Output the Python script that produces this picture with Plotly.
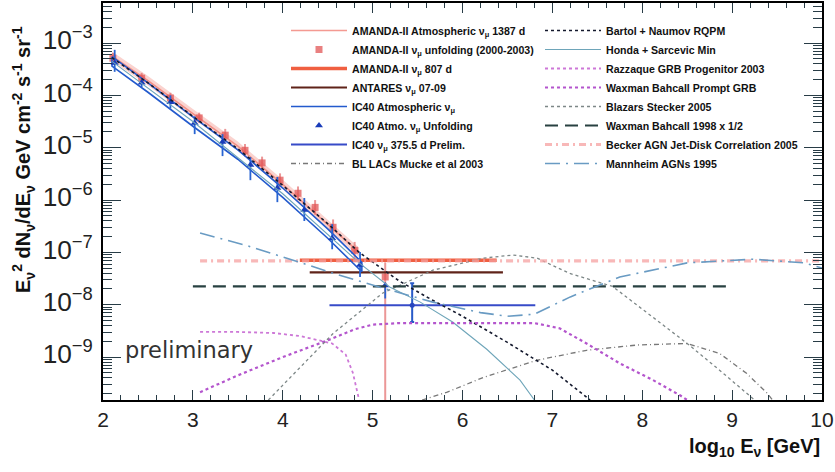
import numpy as np
import plotly.graph_objects as go

# ---------------- data (log10 E [GeV], log10 E^2 dN/dE) ----------------
# AMANDA-II atmospheric band 1387 d (centre line, half width in decades)
amanda_band_x = [2.1, 2.5, 3.0, 3.5, 4.0, 4.5, 4.85]
amanda_band_c = [-3.25, -3.72, -4.35, -4.97, -5.70, -6.47, -7.00]
amanda_band_hw = 0.09

# AMANDA-II unfolding (2000-2003)
amanda_unf_x = [2.11, 2.43, 2.75, 3.07, 3.36, 3.58, 3.77, 3.97, 4.17, 4.36, 4.56, 4.80, 5.14]
amanda_unf_y = [-3.29, -3.67, -4.05, -4.43, -4.76, -5.05, -5.29, -5.62, -5.87, -6.14, -6.52, -6.96, -7.47]
amanda_unf_up = [0.10, 0.10, 0.10, 0.10, 0.12, 0.12, 0.12, 0.13, 0.13, 0.14, 0.15, 0.16, 0.28]
amanda_unf_dn = [0.10, 0.10, 0.10, 0.10, 0.12, 0.12, 0.12, 0.13, 0.13, 0.14, 0.15, 0.16, 4.0]

# AMANDA-II 807 d limit
amanda807_x = [4.19, 6.38]
amanda807_y = -7.15

# ANTARES 07-09
antares_x = [4.30, 6.45]
antares_y = -7.38

# IC40 atmospheric band (centre, half width)
ic40_band_x = [2.1, 2.5, 3.0, 3.5, 4.0, 4.5, 4.88]
ic40_band_c = [-3.35, -3.85, -4.50, -5.13, -5.86, -6.64, -7.28]
ic40_band_hw = 0.09

# IC40 atmospheric unfolding
ic40_unf_x = [2.13, 2.43, 2.75, 3.02, 3.33, 3.64, 3.94, 4.24, 4.55, 4.86, 5.14]
ic40_unf_y = [-3.38, -3.76, -4.13, -4.53, -4.89, -5.33, -5.77, -6.19, -6.73, -7.24, -7.63]
ic40_unf_up = [0.25, 0.06, 0.13, 0.13, 0.15, 0.15, 0.21, 0.23, 0.27, 0.25, 0.04]
ic40_unf_dn = [0.17, 0.08, 0.12, 0.21, 0.27, 0.29, 0.27, 0.21, 0.21, 0.23, 0.25]

# IC40 375.5 d preliminary
ic40p_xrange = [4.52, 6.81]
ic40p_x = 5.44
ic40p_y = -8.01
ic40p_up = 0.42
ic40p_dn = 0.32

# BL LACs Mucke et al 2003
mucke_x = [5.55, 5.83, 6.23, 6.83, 7.38, 7.94, 8.5, 8.86, 9.16, 9.39, 9.45]
mucke_y = [-9.82, -9.67, -9.39, -9.06, -8.87, -8.77, -8.74, -8.93, -9.31, -9.69, -9.82]

# Bartol + Naumov RQPM
bartol_x = [2.1, 2.5, 3.0, 3.5, 4.0, 4.5, 4.85, 5.3, 5.6, 6.0, 6.5, 7.0, 7.42]
bartol_y = [-3.28, -3.76, -4.40, -5.02, -5.72, -6.45, -7.0, -7.55, -7.85, -8.22, -8.72, -9.25, -9.82]

# Honda + Sarcevic Min
honda_x = [2.1, 3.0, 4.0, 4.5, 4.85, 5.19, 5.53, 5.89, 6.27, 6.64, 6.8]
honda_y = [-3.35, -4.50, -5.88, -6.65, -7.20, -7.66, -7.95, -8.33, -8.85, -9.44, -9.82]

# Razzaque GRB progenitor 2003
razz_x = [3.08, 3.5, 3.9, 4.2, 4.55, 4.7, 4.78, 4.83, 4.85]
razz_y = [-8.52, -8.52, -8.54, -8.60, -8.74, -8.95, -9.30, -9.69, -9.82]

# Waxman Bahcall prompt GRB
wbgrb_x = [3.08, 3.5, 4.0, 4.5, 4.8, 5.0, 5.3, 6.8, 7.08, 7.38, 7.75, 8.12, 8.42, 8.5]
wbgrb_y = [-9.67, -9.35, -9.0, -8.68, -8.47, -8.38, -8.35, -8.35, -8.45, -8.74, -9.12, -9.44, -9.73, -9.82]

# Blazars Stecker 2005
stecker_x = [3.84, 4.2, 4.56, 5.11, 5.67, 6.23, 6.56, 6.83, 7.19, 7.67, 8.12, 8.5, 8.86, 9.16, 9.25]
stecker_y = [-9.82, -9.19, -8.55, -7.78, -7.34, -7.11, -7.05, -7.11, -7.40, -7.65, -8.24, -8.74, -9.25, -9.69, -9.82]

# Waxman Bahcall 1998 x 1/2
wb98_x = [3.0, 8.94]
wb98_y = -7.65

# Becker AGN Jet-Disk correlation 2005
becker_x = [3.08, 10.0]
becker_y = -7.16

# Mannheim AGNs 1995
mann_x = [3.08, 3.6, 4.19, 4.56, 5.11, 5.67, 6.2, 6.5, 6.8, 7.2, 7.75, 8.5, 9.23, 9.8, 10.0]
mann_y = [-6.63, -6.87, -7.19, -7.40, -7.68, -7.95, -8.15, -8.22, -8.18, -7.85, -7.47, -7.20, -7.13, -7.20, -7.30]

x_ticks = [2, 3, 4, 5, 6, 7, 8, 9, 10]

# ---------------- helpers ----------------
def p(a):
    return 10 ** np.asarray(a, dtype=float)

def errs(y, up, dn):
    yv = p(y)
    return yv * (10 ** np.asarray(up) - 1), yv * (1 - 10 ** (-np.asarray(dn)))

FONT = "Liberation Sans, Arial, Helvetica, sans-serif"
MU = "ν<sub>μ</sub>"

fig = go.Figure()

# AMANDA band (fill) + centre line for legend
bx = np.asarray(amanda_band_x)
bc = np.asarray(amanda_band_c)
fig.add_trace(go.Scatter(
    x=np.concatenate([bx, bx[::-1]]),
    y=p(np.concatenate([bc + amanda_band_hw, (bc - amanda_band_hw)[::-1]])),
    fill="toself", fillcolor="rgba(240,120,110,0.33)", line=dict(width=0),
    mode="lines", showlegend=False, hoverinfo="skip"))
fig.add_trace(go.Scatter(
    x=amanda_band_x, y=p(amanda_band_c), mode="lines",
    line=dict(color="rgba(240,120,110,0.75)", width=1.5),
    name=f"AMANDA-II Atmospheric {MU} 1387 d", legend="legend"))

# AMANDA unfolding
ap, am = errs(amanda_unf_y, amanda_unf_up, amanda_unf_dn)
fig.add_trace(go.Scatter(
    x=amanda_unf_x, y=p(amanda_unf_y), mode="markers",
    marker=dict(symbol="square", size=7, color="rgba(225,85,85,0.75)"),
    error_y=dict(type="data", array=ap, arrayminus=am, color="rgba(225,95,95,0.65)",
                 thickness=2, width=0),
    name=f"AMANDA-II {MU} unfolding (2000-2003)", legend="legend"))

# AMANDA 807 d
fig.add_trace(go.Scatter(
    x=amanda807_x, y=p([amanda807_y] * 2), mode="lines",
    line=dict(color="rgb(240,95,65)", width=3.5),
    name=f"AMANDA-II {MU} 807 d", legend="legend"))

# ANTARES
fig.add_trace(go.Scatter(
    x=antares_x, y=p([antares_y] * 2), mode="lines",
    line=dict(color="rgb(95,35,25)", width=2.2),
    name=f"ANTARES {MU} 07-09", legend="legend"))

# IC40 band outline
ix = np.asarray(ic40_band_x)
ic = np.asarray(ic40_band_c)
fig.add_trace(go.Scatter(
    x=np.concatenate([ix, ix[::-1], ix[:1]]),
    y=p(np.concatenate([ic + ic40_band_hw, (ic - ic40_band_hw)[::-1], ic[:1] + ic40_band_hw])),
    mode="lines", line=dict(color="rgb(35,90,205)", width=1.6),
    name=f"IC40 Atmospheric {MU}", legend="legend"))

# IC40 unfolding
ip, im = errs(ic40_unf_y, ic40_unf_up, ic40_unf_dn)
fig.add_trace(go.Scatter(
    x=ic40_unf_x, y=p(ic40_unf_y), mode="markers",
    marker=dict(symbol="triangle-up", size=7, color="rgb(25,60,185)"),
    error_y=dict(type="data", array=ip, arrayminus=im, color="rgb(40,100,210)",
                 thickness=1.8, width=0),
    name=f"IC40 Atmo. {MU} Unfolding", legend="legend"))

# IC40 375.5 d preliminary
fig.add_trace(go.Scatter(
    x=ic40p_xrange, y=p([ic40p_y] * 2), mode="lines",
    line=dict(color="rgb(55,75,200)", width=2.2),
    name=f"IC40 {MU} 375.5 d Prelim.", legend="legend"))
pp, pm = errs([ic40p_y], [ic40p_up], [ic40p_dn])
fig.add_trace(go.Scatter(
    x=[ic40p_x], y=p([ic40p_y]), mode="markers",
    marker=dict(symbol="circle", size=5, color="rgb(40,70,190)"),
    error_y=dict(type="data", array=pp, arrayminus=pm, color="rgb(40,90,200)",
                 thickness=2, width=2),
    showlegend=False))

# Mucke
fig.add_trace(go.Scatter(
    x=mucke_x, y=p(mucke_y), mode="lines",
    line=dict(color="rgb(120,120,120)", width=1.3, dash="5px,3px,1px,3px"),
    name="BL LACs Mucke et al 2003", legend="legend"))

# ---- right legend models ----
fig.add_trace(go.Scatter(
    x=bartol_x, y=p(bartol_y), mode="lines",
    line=dict(color="rgb(20,25,45)", width=1.6, dash="dot"),
    name="Bartol + Naumov RQPM", legend="legend2"))
fig.add_trace(go.Scatter(
    x=honda_x, y=p(honda_y), mode="lines",
    line=dict(color="rgb(110,165,185)", width=1.1),
    name="Honda + Sarcevic Min", legend="legend2"))
fig.add_trace(go.Scatter(
    x=razz_x, y=p(razz_y), mode="lines",
    line=dict(color="rgb(205,120,215)", width=1.8, dash="dot"),
    name="Razzaque GRB Progenitor 2003", legend="legend2"))
fig.add_trace(go.Scatter(
    x=wbgrb_x, y=p(wbgrb_y), mode="lines",
    line=dict(color="rgb(180,85,205)", width=2.2, dash="3px,3px"),
    name="Waxman Bahcall Prompt GRB", legend="legend2"))
fig.add_trace(go.Scatter(
    x=stecker_x, y=p(stecker_y), mode="lines",
    line=dict(color="rgb(125,135,135)", width=1.3, dash="dot"),
    name="Blazars Stecker 2005", legend="legend2"))
fig.add_trace(go.Scatter(
    x=wb98_x, y=p([wb98_y] * 2), mode="lines",
    line=dict(color="rgb(40,65,65)", width=2.2, dash="13px,7px"),
    name="Waxman Bahcall 1998 x 1/2", legend="legend2"))
fig.add_trace(go.Scatter(
    x=becker_x, y=p([becker_y] * 2), mode="lines",
    line=dict(color="rgba(245,160,160,0.75)", width=3.2, dash="7px,4px,2px,4px"),
    name="Becker AGN Jet-Disk Correlation 2005", legend="legend2"))
fig.add_trace(go.Scatter(
    x=mann_x, y=p(mann_y), mode="lines",
    line=dict(color="rgb(105,155,195)", width=1.6, dash="15px,6px,2px,6px"),
    name="Mannheim AGNs 1995", legend="legend2"))

axis_common = dict(
    showline=True, linecolor="black", linewidth=2, mirror="ticks",
    ticks="inside", tickcolor="rgb(40,60,70)", showgrid=False, zeroline=False,
    automargin=False,
    tickfont=dict(family=FONT, size=21, color="#222"),
)

fig.update_xaxes(
    range=[2, 10], tickvals=x_ticks, ticktext=[str(v) for v in x_ticks],
    ticklen=10, tickwidth=1.2,
    minor=dict(ticks="inside", dtick=0.2, ticklen=5, tickcolor="rgb(40,60,70)", showgrid=False),
    ticklabelstandoff=0,
    **axis_common)
fig.update_yaxes(
    type="log", range=[-9.82, -2.235], dtick=1, exponentformat="power",
    ticklen=18, tickwidth=1.2,
    minor=dict(ticks="inside", dtick="D1", ticklen=9, tickcolor="rgb(40,60,70)", showgrid=False),
    ticklabelstandoff=4, ticklabelshift=-3,
    **axis_common)

legend_common = dict(
    xanchor="left", yanchor="top", bgcolor="rgba(0,0,0,0)", borderwidth=0,
    font=dict(family=FONT, size=10.6, color="#111", weight="bold"),
    itemwidth=56, tracegroupgap=0, traceorder="normal",
)

fig.update_layout(
    width=835, height=472,
    margin=dict(l=103, r=13, t=3, b=72, autoexpand=False),
    paper_bgcolor="white", plot_bgcolor="white",
    legend=dict(x=(286 - 103) / 719, y=1 - (16 - 3) / 397, **legend_common),
    legend2=dict(x=(540 - 103) / 719, y=1 - (16 - 3) / 397, **legend_common),
    annotations=[
        dict(text="E<sub>ν</sub><sup>2</sup> dN<sub>ν</sub>/dE<sub>ν</sub> GeV cm<sup>-2</sup> s<sup>-1</sup> sr<sup>-1</sup>",
             xref="paper", yref="paper", x=(24 - 103) / 719, y=1 - (160 - 3) / 397,
             xanchor="center", yanchor="middle", textangle=-90, showarrow=False,
             font=dict(family=FONT, size=20, color="#111", weight="bold")),
        dict(text="log<sub>10</sub> E<sub>ν</sub> [GeV]",
             xref="paper", yref="paper", x=1.0, y=1 - (447 - 3) / 397,
             xanchor="right", yanchor="middle", showarrow=False,
             font=dict(family=FONT, size=20, color="#111", weight="bold")),
        dict(text="preliminary", xref="x", yref="y", x=2.22, y=-8.87,
             xanchor="left", yanchor="middle", showarrow=False,
             font=dict(family="DejaVu Sans, sans-serif", size=22.5, color="#333")),
    ],
)

fig.write_html("out.html", config={"displayModeBar": False},
               post_script="document.body.style.margin='0px';")
